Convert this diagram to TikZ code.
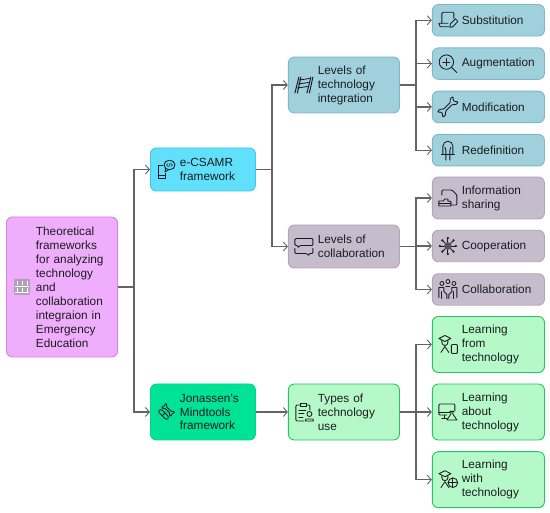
\documentclass[tikz,border=0pt]{standalone}
\usepackage{fontspec}
\setmainfont{Liberation Sans}
\usetikzlibrary{arrows.meta,positioning}
\definecolor{ink}{RGB}{28,28,32}
\definecolor{wire}{RGB}{100,100,100}
\definecolor{rootfill}{RGB}{239,174,251}
\definecolor{rootline}{RGB}{214,130,230}
\definecolor{cyanfill}{RGB}{96,224,250}
\definecolor{cyanline}{RGB}{60,200,232}
\definecolor{mintfill}{RGB}{0,226,150}
\definecolor{mintline}{RGB}{0,214,140}
\definecolor{tealfill}{RGB}{160,208,220}
\definecolor{tealline}{RGB}{126,184,200}
\definecolor{greyfill}{RGB}{197,188,204}
\definecolor{greyline}{RGB}{176,166,186}
\definecolor{greenfill}{RGB}{181,249,200}
\definecolor{greenline}{RGB}{34,197,94}
\definecolor{rackgray}{RGB}{176,160,184}
\newcommand{\capshape}{%
  \draw[icn] (-9,-6) -- (-3,-9) -- (3,-6) -- (-3,-3) -- cycle;
  \draw[icn] (-6,-4) -- (-6,-2) arc(180:0:3) -- (0,-4);
  \draw[icn] (-7,8) -- (-3,2) -- (1,8);
}
\tikzset{
  blk/.style={draw, rounded corners=6pt, line width=.9pt, inner xsep=2pt, inner ysep=0pt,
              text=ink, text width=107.1pt, align=left, minimum height=56pt,
              font=\fontsize{11.8}{14}\selectfont,
              execute at begin node={\leftskip=27.5pt}},
  leafblk/.style={blk, text width=108.1pt, minimum height=31.5pt},
  rootblk/.style={blk, draw=rootline, fill=rootfill, minimum height=140pt},
  tealblk/.style={draw=tealline, fill=tealfill},
  greyblk/.style={draw=greyline, fill=greyfill},
  greenblk/.style={draw=greenline, fill=greenfill},
  flowarr/.style={-{Straight Barb[length=4pt,width=9pt,line width=.9pt]}, wire, line width=1.25pt},
  icn/.style={draw=ink, line width=.85pt, line cap=round, line join=round},
  pics/iconrack/.style={code={
    \fill[rackgray, rounded corners=1pt] (-8,-8) rectangle (8,8);
    \foreach \xpos in {-5,0,5}{\draw[white, line width=.8pt] (\xpos,-6) -- (\xpos,-2) (\xpos,1) -- (\xpos,6);}
    \draw[white, line width=.6pt] (-7,-1) -- (7,-1) (-7,5) -- (7,5);
  }},
  pics/iconchatphone/.style={code={
    \draw[icn] (-3,-4) -- (-8,-4) -- (-8,8.5) -- (-1,8.5) -- (-1,4);
    \draw[icn] (-8,6) -- (-1,6);
    \draw[icn] (3.5,-4.5) circle[x radius=5.5, y radius=4.8];
    \draw[icn] (-.5,-1) -- (-1,2.5) -- (2.5,.3);
    \draw[icn, line width=.55pt] (2,-6) -- (.5,-4.5) -- (2,-3) (5,-6) -- (6.5,-4.5) -- (5,-3) (4.2,-6.5) -- (2.8,-2.5);
  }},
  pics/icontools/.style={code={
    \begin{scope}[rotate=-45, yshift=3pt, scale=.75, rounded corners=.8pt]
      \draw[icn] (-5,-1.5) -- (5,-1.5) -- (6,-4) -- (9,-3.5) -- (7.5,-1) -- (7.5,1) -- (9,3.5) -- (6,4) -- (5,1.5) -- (-5,1.5) -- (-6,4) -- (-9,3.5) -- (-7.5,1) -- (-7.5,-1) -- (-9,-3.5) -- (-6,-4) -- cycle;
    \end{scope}
    \begin{scope}[rotate=-45, yshift=-3.4pt, scale=.75]
      \draw[icn, rounded corners=2pt] (-8,-2.6) rectangle (8,2.6);
      \draw[icn] (0,-2.6) -- (0,2.6);
    \end{scope}
  }},
  pics/iconladder/.style={code={
    \draw[icn, line width=1pt] (-9,8) -- (-5,-8) (-6.5,8) -- (-3,-8) (3,8) -- (7,-8) (5.5,8) -- (9,-8);
    \foreach \ypos in {-5,-1,3}{\draw[icn] (-5+\ypos*-.25-.8,\ypos) -- (5+\ypos*-.25-.8,\ypos-1.5);}
  }},
  pics/iconlaptop/.style={code={
    \draw[icn, rounded corners=1pt] (-6,3) -- (-6,-8) -- (6,-8) -- (6,-2);
    \draw[icn, rounded corners=1pt] (-9,3) -- (0,3) (-9,3) -- (-8,6.5) -- (1,6.5);
    \draw[icn] (2,7) -- (2.5,3.5) -- (7.5,-1.5) -- (10,1) -- (5,6.5) -- cycle;
  }},
  pics/iconzoom/.style={code={
    \draw[icn] (-1.5,-1.5) circle[radius=7.2];
    \draw[icn] (-5,-1.5) -- (2,-1.5) (-1.5,-5) -- (-1.5,2);
    \draw[icn] (3.8,3.8) -- (9,9);
  }},
  pics/iconwrench/.style={code={
    \draw[icn, rotate=45, scale=.85, rounded corners=1pt] (-6,-1.7) -- (6,-1.7) -- (8,-4.5) -- (11,-5) -- (13,-4) -- (10,-1.5) -- (10,1.5) -- (13,4) -- (11,5) -- (8,4.5) -- (6,1.7) -- (-6,1.7) -- (-8,4.5) -- (-11,5) -- (-13,4) -- (-10,1.5) -- (-10,-1.5) -- (-13,-4) -- (-11,-5) -- (-8,-4.5) -- cycle;
  }},
  pics/iconled/.style={code={
    \draw[icn] (-5,4) -- (-5,-4) arc(180:360:5) -- (5,4);
    \draw[icn] (-6.5,4) -- (6.5,4);
    \draw[icn] (-2,10) -- (-2,0) -- (-3,-3) (2,10) -- (2,0) -- (3,-3);
  }},
  pics/icondoc/.style={code={
    \draw[icn, rounded corners=1pt] (-6,-3) -- (-6,-8) -- (4,-8) -- (9,-3) -- (9,7) -- (3,7);
    \draw[icn] (-9,8) -- (-9,3) -- (-5,3) -- (-3,1) -- (0,1) -- (0,3) -- (3,3.5) -- (3,8) -- cycle;
    \draw[icn] (-9,5) -- (3,5);
  }},
  pics/iconstar/.style={code={
    \foreach \ang in {0,45,...,315}{
      \draw[icn] (\ang:3.5) -- (\ang:7.5);
      \fill[ink] (\ang:8) circle[radius=1.2];
    }
    \fill[ink!75] (0,0) circle[radius=3.8];
  }},
  pics/iconteam/.style={code={
    \foreach \xpos/\ypos in {-6/-6,6/-6,0/-8}{\draw[icn] (\xpos,\ypos) circle[radius=2];}
    \draw[icn] (-9,8) -- (-9,-2) -- (-4,-2) -- (-4,2) -- (-1,5) -- (-1,9);
    \draw[icn] (9,8) -- (9,-2) -- (4,-2) -- (4,2) -- (1,5) -- (1,9);
    \draw[icn] (-6,9) -- (-6,2) (6,9) -- (6,2);
    \draw[icn] (-2,-3) -- (2,-3);
  }},
  pics/iconchat/.style={code={
    \draw[icn, rounded corners=1pt] (-9,-1) -- (-9,-8) -- (9,-8) -- (9,-1) -- (-4,-1) -- (-6,1.5) -- (-6,-1) -- cycle;
    \draw[icn, rounded corners=1pt] (-9,2) -- (-9,7) -- (3,7) -- (5,9.5) -- (5,7) -- (9,7) -- (9,2);
  }},
  pics/iconclip/.style={code={
    \draw[icn, rounded corners=1pt] (-3,-7) -- (-8,-7) -- (-8,9) -- (0,9);
    \draw[icn, rounded corners=1pt] (3,-7) -- (6,-7) -- (6,-2);
    \draw[icn] (-3,-6) -- (-3,-9) -- (3,-9) -- (3,-6) -- cycle;
    \draw[icn] (-5,-2) -- (2,-2) (-5,1.5) -- (0,1.5) (-5,5) -- (-1,5);
    \draw[icn] (5.5,2) circle[radius=2.5];
    \draw[icn] (1.5,9) -- (2,7) -- (9,7) -- (9.5,9) -- cycle;
  }},
  pics/iconcapphone/.style={code={
    \capshape
    \draw[icn, rounded corners=.8pt] (3.5,0) rectangle (9.5,9);
  }},
  pics/iconcapglobe/.style={code={
    \capshape
    \draw[icn] (5,3) circle[radius=4.8];
    \draw[icn] (.2,3) -- (9.8,3) (5,-1.8) -- (5,7.8);
  }},
  pics/iconscreen/.style={code={
    \draw[icn, rounded corners=1pt] (-1,3) -- (-9,3) -- (-9,-8) -- (7,-8) -- (7,-1);
    \draw[icn] (-9,0) -- (2,0);
    \draw[icn] (-6,6) -- (-1,6) (-3.5,3) -- (-3.5,6);
    \draw[icn] (3,-1) -- (3,2) -- (-1,8) -- (9,8) -- (5,2) -- (5,-1);
    \draw[icn] (2,-1) -- (6,-1);
  }},
}
\begin{document}
\begin{tikzpicture}[x=1pt,y=-1pt]
  \useasboundingbox (0,0) rectangle (550,513);
  % first two columns
  \node[rootblk] (root) at (62,287)
       {Theoretical\\ frameworks\\ for analyzing\\ technology\\ and\\ collaboration\\ integraion in\\ Emergency\\ Education};
  \node[blk, draw=cyanline, fill=cyanfill, text width=101pt, minimum height=43pt, right=32pt of root, yshift=117.5pt] (ecsamr)
       {e-CSAMR\\ framework};
  \node[blk, draw=mintline, fill=mintfill, text width=101pt, right=32pt of root, yshift=-125pt] (jonassen)
       {Jonassen's\\ Mindtools\\ framework};
  \node[blk, tealblk, right=32pt of ecsamr, yshift=84.5pt] (techlevels)
       {Levels of\\ technology\\ integration};
  \node[blk, greyblk, minimum height=43pt, right=32pt of ecsamr, yshift=-77pt] (collablevels)
       {Levels of\\ collaboration};
  \node[blk, greenblk, right=32pt of jonassen] (types)
       {Types of\\ technology\\ use};
  % leaves
  \node[leafblk, tealblk, right=32pt of techlevels, yshift=64.7pt] (subs) {Substitution};
  \node[leafblk, tealblk, below=10.9pt of subs] (augm) {Augmentation};
  \node[leafblk, tealblk, below=10.9pt of augm] (modif) {Modification};
  \node[leafblk, tealblk, below=10.9pt of modif] (redef) {Redefinition};
  \node[leafblk, greyblk, minimum height=42pt, right=32pt of collablevels, yshift=48.5pt] (info) {Information\\ sharing};
  \node[leafblk, greyblk, right=32pt of collablevels, yshift=.5pt] (coop) {Cooperation};
  \node[leafblk, greyblk, right=32pt of collablevels, yshift=-43pt] (collab) {Collaboration};
  \node[leafblk, greenblk, minimum height=56pt, right=32pt of types, yshift=67.5pt] (lfrom) {Learning\\ from\\ technology};
  \node[leafblk, greenblk, minimum height=56pt, right=32pt of types] (labout) {Learning\\ about\\ technology};
  \node[leafblk, greenblk, minimum height=56pt, right=32pt of types, yshift=-67.7pt] (lwith) {Learning\\ with\\ technology};
  % forks
  \coordinate[right=16pt of root] (forkroot);
  \coordinate[right=16pt of ecsamr] (forkcsamr);
  \coordinate[right=16pt of techlevels] (forktech);
  \coordinate[right=16pt of collablevels] (forkcollab);
  \coordinate[right=16pt of types] (forktypes);
  \draw[flowarr] (root) -- (forkroot) |- (ecsamr);
  \draw[flowarr] (root) -- (forkroot) |- (jonassen);
  \draw[flowarr] (ecsamr) -- (forkcsamr) |- (techlevels);
  \draw[flowarr] (ecsamr) -- (forkcsamr) |- (collablevels);
  \draw[flowarr] (jonassen) -- (types);
  \draw[flowarr] (techlevels) -- (forktech) |- (subs);
  \draw[flowarr] (techlevels) -- (forktech) |- (augm);
  \draw[flowarr] (techlevels) -- (forktech) |- (modif);
  \draw[flowarr] (techlevels) -- (forktech) |- (redef);
  \draw[flowarr] (collablevels) -- (forkcollab) |- (info);
  \draw[flowarr] (collablevels) -- (forkcollab) |- (coop);
  \draw[flowarr] (collablevels) -- (forkcollab) |- (collab);
  \draw[flowarr] (types) -- (forktypes) |- (lfrom);
  \draw[flowarr] (types) -- (forktypes) |- (labout);
  \draw[flowarr] (types) -- (forktypes) |- (lwith);
  % icons
  \pic at ([xshift=16pt]root.west) {iconrack};
  \pic at ([xshift=16pt]ecsamr.west) {iconchatphone};
  \pic at ([xshift=16pt]jonassen.west) {icontools};
  \pic at ([xshift=16pt]techlevels.west) {iconladder};
  \pic at ([xshift=16pt]collablevels.west) {iconchat};
  \pic at ([xshift=16pt]types.west) {iconclip};
  \pic at ([xshift=16pt]subs.west) {iconlaptop};
  \pic at ([xshift=16pt]augm.west) {iconzoom};
  \pic at ([xshift=16pt]modif.west) {iconwrench};
  \pic at ([xshift=16pt]redef.west) {iconled};
  \pic at ([xshift=16pt]info.west) {icondoc};
  \pic at ([xshift=16pt]coop.west) {iconstar};
  \pic at ([xshift=16pt]collab.west) {iconteam};
  \pic at ([xshift=16pt]lfrom.west) {iconcapphone};
  \pic at ([xshift=16pt]labout.west) {iconscreen};
  \pic at ([xshift=16pt]lwith.west) {iconcapglobe};
\end{tikzpicture}
\end{document}
